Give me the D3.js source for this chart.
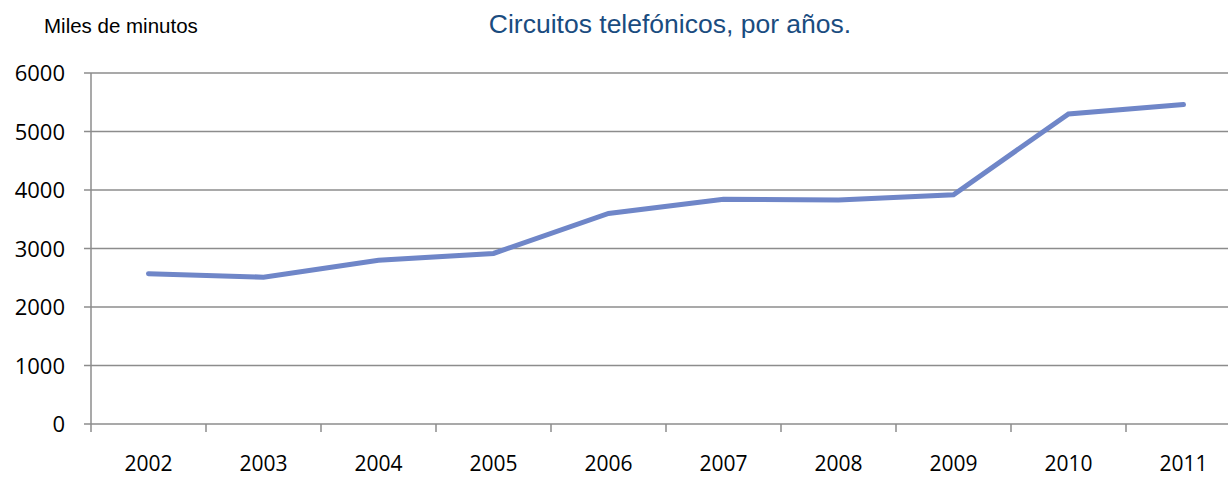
<!DOCTYPE html>
<html>
<head>
<meta charset="utf-8">
<script src="https://cdn.jsdelivr.net/npm/d3@7"></script>
<style>
  body { margin: 0; background: #fff; overflow: hidden; }
  svg { display: block; }
</style>
</head>
<body>
<div id="chart"></div>
<script>
// data
const years = ["2002", "2003", "2004", "2005", "2006", "2007", "2008", "2009", "2010", "2011"];
const minutes = [2570, 2510, 2800, 2915, 3600, 3840, 3830, 3920, 5300, 5460];
const yTicks = [0, 1000, 2000, 3000, 4000, 5000, 6000];

const width = 1228, height = 478;
const plotLeft = 91, plotTop = 73, plotBottom = 424;

const svg = d3.select("#chart").append("svg")
  .attr("width", width)
  .attr("height", height);

// category band, last band runs past the right edge like the original
const x = d3.scaleBand().domain(years).range([plotLeft, plotLeft + 115 * years.length]);
const y = d3.scaleLinear().domain([0, 6000]).range([plotBottom, plotTop]);

const gridColor = "#8c8c8c";
const tickFont = "Open Sans, Lato, sans-serif";

// horizontal gridlines
svg.append("g")
  .selectAll("line")
  .data(yTicks)
  .join("line")
  .attr("x1", plotLeft - 7)
  .attr("x2", width)
  .attr("y1", d => y(d))
  .attr("y2", d => y(d))
  .attr("stroke", gridColor)
  .attr("stroke-width", 1.5);

// y axis line
svg.append("line")
  .attr("x1", plotLeft).attr("x2", plotLeft)
  .attr("y1", plotTop).attr("y2", plotBottom + 8)
  .attr("stroke", gridColor)
  .attr("stroke-width", 1.5);

// y labels
svg.append("g")
  .selectAll("text")
  .data(yTicks)
  .join("text")
  .attr("x", 65)
  .attr("y", d => y(d) + 8)
  .attr("text-anchor", "end")
  .style("font-family", tickFont)
  .style("font-size", "22px")
  .attr("fill", "#000")
  .text(d => d);

// x tick marks at band edges
svg.append("g")
  .selectAll("line")
  .data(years.slice(1))
  .join("line")
  .attr("x1", d => x(d))
  .attr("x2", d => x(d))
  .attr("y1", plotBottom)
  .attr("y2", plotBottom + 8)
  .attr("stroke", gridColor)
  .attr("stroke-width", 1.5);

// x labels
svg.append("g")
  .selectAll("text")
  .data(years)
  .join("text")
  .attr("x", d => x(d) + x.bandwidth() / 2)
  .attr("y", 471)
  .attr("text-anchor", "middle")
  .style("font-family", tickFont)
  .style("font-size", "21px")
  .attr("fill", "#000")
  .text(d => d);

// the series line
const line = d3.line()
  .x((d, i) => x(years[i]) + x.bandwidth() / 2)
  .y(d => y(d));

svg.append("path")
  .datum(minutes)
  .attr("d", line)
  .attr("fill", "none")
  .attr("stroke", "#6f86c8")
  .attr("stroke-width", 5)
  .attr("stroke-linecap", "round")
  .attr("stroke-linejoin", "miter");

// axis caption and title
svg.append("text")
  .attr("x", 44)
  .attr("y", 33)
  .style("font-family", "Liberation Sans, Arial, sans-serif")
  .style("font-size", "20.5px")
  .attr("fill", "#000")
  .text("Miles de minutos");

svg.append("text")
  .attr("x", 670)
  .attr("y", 33)
  .attr("text-anchor", "middle")
  .style("font-family", "Liberation Sans, Arial, sans-serif")
  .style("font-size", "26.5px")
  .attr("fill", "#1a4c7f")
  .text("Circuitos telefónicos, por años.");
</script>
</body>
</html>
